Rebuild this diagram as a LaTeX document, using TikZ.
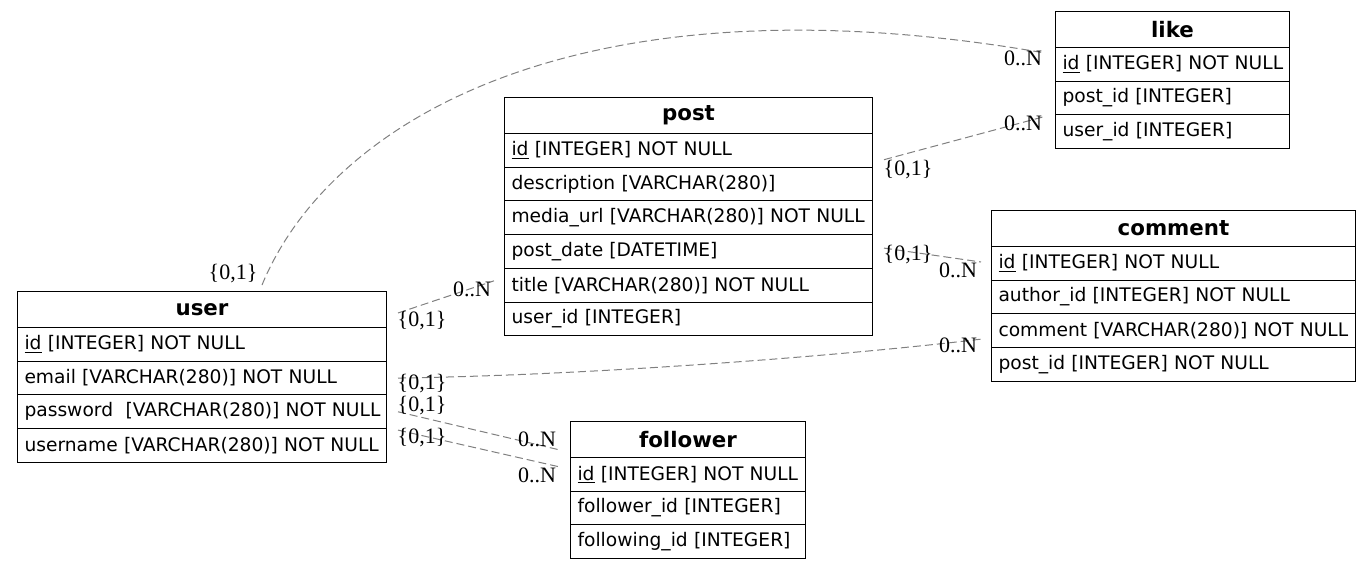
\documentclass[tikz,border=0pt]{standalone}
\usepackage{fontspec}
\newfontfamily\dejavu{DejaVu Sans}
\newfontfamily\cardfont{Liberation Serif}
\usetikzlibrary{calc}
\newcommand\rtxt[1]{\mbox{#1}}
\tikzset{
  tblhead/.style={draw=black, line width=0.75pt, anchor=north west, inner sep=0pt,
    minimum height=27pt, minimum width=#1, font=\dejavu\bfseries\fontsize{16}{18}\selectfont},
  tblrow/.style={draw=black, line width=0.75pt, anchor=north west, inner xsep=5.25pt,
    inner ysep=0pt, minimum height=25.3pt, text width=#1, align=left,
    font=\dejavu\fontsize{14}{16}\selectfont},
  rel/.style={draw=gray, line width=0.75pt, dash pattern=on 6pt off 3pt},
  card/.style={inner sep=0pt, font=\cardfont\fontsize{16.5}{18}\selectfont},
}
\begin{document}
\begin{tikzpicture}[x=0.75pt,y=-0.75pt]
\useasboundingbox (0,0) rectangle (1371,568);

% user
\node[tblhead=276.75pt] (user-h) at (17,291) {user};
\node[tblrow=266.25pt] (user-id) at (17,327) {\rtxt{\underline{id} [INTEGER] NOT NULL}};
\node[tblrow=266.25pt] (user-email) at (17,360.7) {\rtxt{email [VARCHAR(280)] NOT NULL}};
\node[tblrow=266.25pt] (user-pw) at (17,394.4) {\rtxt{password~ [VARCHAR(280)] NOT NULL}};
\node[tblrow=266.25pt] (user-un) at (17,428.1) {\rtxt{username [VARCHAR(280)] NOT NULL}};

% post
\node[tblhead=276pt] (post-h) at (504,97) {post};
\node[tblrow=265.5pt] (post-id) at (504,133) {\rtxt{\underline{id} [INTEGER] NOT NULL}};
\node[tblrow=265.5pt] (post-desc) at (504,166.7) {\rtxt{description [VARCHAR(280)]}};
\node[tblrow=265.5pt] (post-url) at (504,200.4) {\rtxt{media\_url [VARCHAR(280)] NOT NULL}};
\node[tblrow=265.5pt] (post-date) at (504,234.1) {\rtxt{post\_date [DATETIME]}};
\node[tblrow=265.5pt] (post-title) at (504,267.8) {\rtxt{title [VARCHAR(280)] NOT NULL}};
\node[tblrow=265.5pt] (post-uid) at (504,301.5) {\rtxt{user\_id [INTEGER]}};

% like
\node[tblhead=175.5pt] (like-h) at (1055,11) {like};
\node[tblrow=165pt] (like-id) at (1055,47) {\rtxt{\underline{id} [INTEGER] NOT NULL}};
\node[tblrow=165pt] (like-pid) at (1055,80.7) {\rtxt{post\_id [INTEGER]}};
\node[tblrow=165pt] (like-uid) at (1055,114.4) {\rtxt{user\_id [INTEGER]}};

% comment
\node[tblhead=273pt] (com-h) at (991,210) {comment};
\node[tblrow=262.5pt] (com-id) at (991,246) {\rtxt{\underline{id} [INTEGER] NOT NULL}};
\node[tblrow=262.5pt] (com-aid) at (991,279.7) {\rtxt{author\_id [INTEGER] NOT NULL}};
\node[tblrow=262.5pt] (com-com) at (991,313.4) {\rtxt{comment [VARCHAR(280)] NOT NULL}};
\node[tblrow=262.5pt] (com-pid) at (991,347.1) {\rtxt{post\_id [INTEGER] NOT NULL}};

% follower
\node[tblhead=176.25pt] (fol-h) at (570,421) {follower};
\node[tblrow=165.75pt] (fol-id) at (570,457) {\rtxt{\underline{id} [INTEGER] NOT NULL}};
\node[tblrow=165.75pt] (fol-fid) at (570,490.7) {\rtxt{follower\_id [INTEGER]}};
\node[tblrow=165.75pt] (fol-fgid) at (570,524.4) {\rtxt{following\_id [INTEGER]}};

% relations
\draw[rel] ($(user-h.north)+(60,-6)$) .. controls (330,120) and (580,-28) .. ($(like-h.south west)+(-10,5)$);
\draw[rel] ($(post-desc.north east)+(11,-7)$) -- ($(like-uid.north west)+(-10,2)$);
\draw[rel] ($(post-date.north east)+(11,14)$) -- ($(com-id.north west)+(-10,16)$);
\draw[rel] ($(user-h.south east)+(11,-15)$) -- ($(post-title.north west)+(-10,13)$);
\draw[rel] ($(user-email.east)+(11,0)$) .. controls (600,375) and (850,355) .. ($(com-com.south west)+(-10,-9)$);
\draw[rel] ($(user-pw.east)+(11,0)$) -- ($(fol-h.south west)+(-10,-8)$);
\draw[rel] ($(user-un.north east)+(11,2)$) -- ($(fol-id.north west)+(-10,10)$);

% cardinalities
\node[card] (c1a) at (233,274) {\{0,1\}};
\node[card] (c1b) at (1023,58) {0..N};
\node[card] (c2a) at (908,170) {\{0,1\}};
\node[card] (c2b) at (1023,123) {0..N};
\node[card] (c3a) at (908,255) {\{0,1\}};
\node[card] (c3b) at (958,270) {0..N};
\node[card] (c4a) at (422,321) {\{0,1\}};
\node[card] (c4b) at (472,289) {0..N};
\node[card] (c5a) at (422,384) {\{0,1\}};
\node[card] (c5b) at (958,345) {0..N};
\node[card] (c6a) at (422,406) {\{0,1\}};
\node[card] (c6b) at (537,439) {0..N};
\node[card] (c7a) at (422,438) {\{0,1\}};
\node[card] (c7b) at (537,475) {0..N};
\end{tikzpicture}
\end{document}
